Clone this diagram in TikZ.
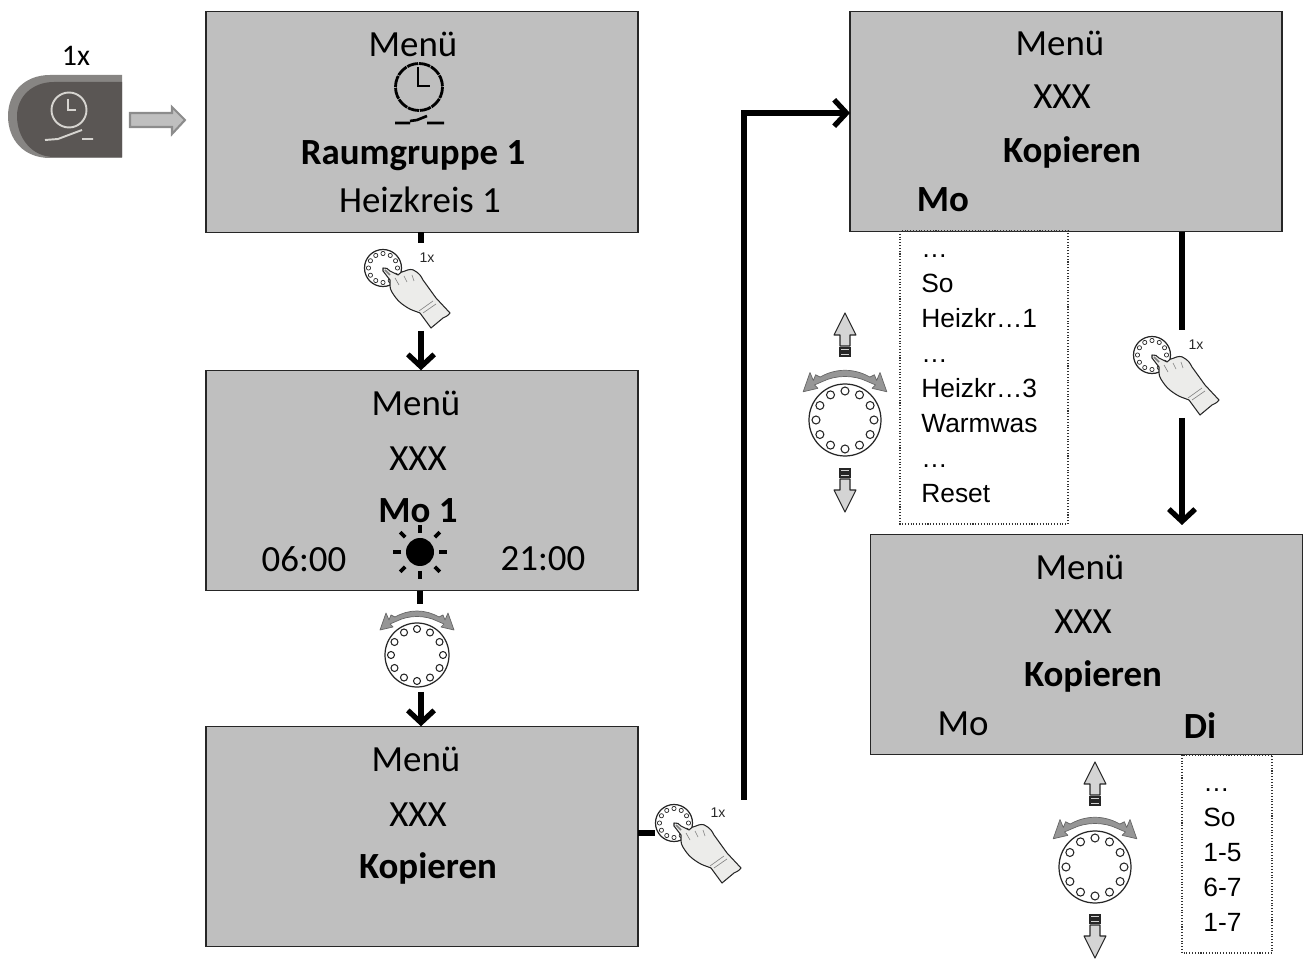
\documentclass[tikz,border=0pt]{standalone}
\usepackage{fontspec}
\setmainfont{Carlito}
\newfontfamily\arialfont{Liberation Sans}
\usetikzlibrary{arrows.meta,calc,positioning}
\definecolor{panelgray}{RGB}{191,191,191}
\definecolor{btndark}{RGB}{90,86,84}
\definecolor{btnrim}{RGB}{135,133,131}
\definecolor{btnline}{RGB}{214,212,208}
\definecolor{handfill}{RGB}{236,236,234}
\definecolor{turngray}{RGB}{150,150,150}
\definecolor{shaftgray}{RGB}{212,212,212}

\begin{document}
\begin{tikzpicture}[
    x=0.02cm, y=-0.02cm,
    panel/.style={draw=black!85, fill=panelgray, line width=0.7pt, inner sep=0pt, outer sep=0pt, minimum width=8.64cm, minimum height=4.41cm},
    paneltext/.style={font=\fontsize{21}{25}\selectfont, text=black, inner sep=0pt},
    boldtext/.style={paneltext, font=\fontsize{21}{25}\selectfont\bfseries},
    listbox/.style={draw=black!80, densely dotted, line width=0.6pt, inner sep=0pt},
    listtext/.style={font=\arialfont\fontsize{15}{19.95}\selectfont, align=left, anchor=north west, inner sep=0pt},
    flowline/.style={line width=3pt, black},
    flowarrow/.style={flowline, -{Straight Barb[length=7pt,width=15pt,line width=3pt]}},
    pics/knobdots/.style args={#1/#2/#3/#4/#5}{code={
      \draw[black!85, line width=0.7pt, fill=white] (0,0) circle (#1);
      \foreach \ang in {0,#4,...,359}
        \draw[black!85, line width=#5, fill=white] (\ang:#2) circle (#3);
    }},
    pics/handpress/.style={code={
      \pic {knobdots=18.5/14.5/2.1/30/0.4pt};
      \draw[black!85, line width=0.6pt, fill=handfill, line join=round] (0,0)
        .. controls (3,-1) and (5,1) .. (7,3)
        -- (15,7)
        .. controls (17,5) and (19,3) .. (22,3)
        .. controls (26,1) and (30,1) .. (32,3)
        .. controls (36,5) and (38,8) .. (40,12)
        -- (53,30) -- (67,45)
        .. controls (65,48) and (62,49) .. (60,50)
        -- (48,60) -- (37,45)
        .. controls (32,43) and (28,42) .. (25,40)
        .. controls (20,37) and (16,34) .. (13,30)
        .. controls (10,26) and (7,22) .. (7,18)
        -- (7,12) -- (0,3) -- cycle;
      \draw[black!50, line width=0.35pt] (36,43) -- (50,33) (40,45) -- (53,36)
        (12,10) -- (16,17) (21,8) -- (24,14) (29,7) -- (31,13);
      \draw[gray, line width=0.9pt] (2,2) -- (7,7);
      \node[font=\arialfont\fontsize{8}{8}\selectfont, text=black!85, inner sep=0pt] at (44,-10) {1x};
    }},
    pics/turnarrow/.style={code={
      \draw[black!60, line width=0.4pt, fill=turngray, line join=round]
        (-37,-25) -- (-31,-42) -- (-28,-35) -- (-26,-40) -- (-22,-38) 
        .. controls (-8,-46) and (8,-46) .. (22,-38)
        -- (26,-40) -- (28,-35) -- (31,-42) -- (37,-25) -- (24,-28) -- (27,-31) -- (20,-34)
        .. controls (8,-40) and (-8,-40) .. (-20,-34)
        -- (-27,-31) -- (-24,-28) -- cycle;
    }},
    pics/updownarrow/.style={code={
      \draw[black!85, line width=0.6pt, fill=shaftgray, line join=round]
        (0,0) -- (11,22) -- (5,22) -- (5,33) -- (-5,33) -- (-5,22) -- (-11,22) -- cycle;
      \draw[black!85, line width=0.6pt, fill=shaftgray] (-5,35) rectangle (5,38);
      \draw[black!85, line width=0.6pt, fill=black!55] (-5,38) rectangle (5,40);
      \draw[black!85, line width=0.6pt, fill=shaftgray] (-5,40) rectangle (5,43);
    }}
  ]
  \useasboundingbox (0,0) rectangle (1303,959);

  % Panels
  \node[panel] (raumpanel) at (422,122) {};
  \node[panel] (mopanel) at (422,480.5) {};
  \node[panel] (koppanel) at (422,836.5) {};
  \node[panel] (menupanel) at (1066,121.5) {};
  \node[panel] (dipanel) at (1086.5,644.5) {};
  \coordinate (raumhand) at (421,243);
  \coordinate (moarrow) at (421,331);
  \coordinate (moknob) at (420,604);
  \coordinate (kopknob) at (421,692);
  \coordinate (kophand) at (655,833);
  \coordinate (kopriser) at (744,800);
  \coordinate (cornerup) at (744,113);
  \coordinate (mohand) at (1182,330);
  \coordinate (diarrow) at (1182,418);
  \coordinate (ditop) at (1182,525);

  % Panel texts
  \node[paneltext] (menua) at (413,44) {Menü};
  \node[boldtext] (raum) at (413,156) {Raumgruppe 1};
  \node[paneltext] (heiz) at (420,200) {Heizkreis 1};
  \node[paneltext] (menub) at (416,403) {Menü};
  \node[paneltext] (xxxb) at (418,459) {XXX};
  \node[boldtext] (mob) at (418,511) {Mo 1};
  \node[paneltext] (timea) at (304,559) {06:00};
  \node[paneltext] (timeb) at (543,559) {21:00};
  \node[paneltext] (menuc) at (416,759) {Menü};
  \node[paneltext] (xxxc) at (418,815) {XXX};
  \node[boldtext] (kopc) at (428,868) {Kopieren};
  \node[paneltext] (menud) at (1060,43) {Menü};
  \node[paneltext] (xxxd) at (1062,97) {XXX};
  \node[boldtext] (kopd) at (1072,152) {Kopieren};
  \node[boldtext] (mod) at (943,200) {Mo};
  \node[paneltext] (menue) at (1080,567) {Menü};
  \node[paneltext] (xxxe) at (1083,622) {XXX};
  \node[boldtext] (kope) at (1093,676) {Kopieren};
  \node[paneltext] (moe) at (963,724) {Mo};
  \node[boldtext] (die) at (1200,726) {Di};

  % Lists
  \draw[listbox] (900,231) rectangle (1068,524);
  \draw[listbox] (1182,755) rectangle (1272,953);
  \node[listtext] (lista) at (921,254) {…\\So\\Heizkr…1\\…\\Heizkr…3\\Warmwas\\…\\Reset};
  \node[listtext] (listb) at (1203,788) {…\\So\\1-5\\6-7\\1-7};

  % Button
  \node[font=\fontsize{17}{20}\selectfont, inner sep=0pt] (press) at (76,56) {1x};
  \fill[btnrim] (122,75) -- (50,75) .. controls (24,75) and (8,93) .. (8,116)
    .. controls (8,140) and (24,158) .. (50,158) -- (122,158) -- cycle;
  \fill[btndark] (122,82) -- (54,82) .. controls (32,82) and (17,97) .. (17,116)
    .. controls (17,138) and (32,157) .. (54,157) -- (122,157) -- cycle;
  \draw[btnline, line width=1.1pt] (69,110) circle (17.5);
  \draw[btnline, line width=1.1pt] (68,99) -- (68,110) -- (76,110);
  \draw[btnline, line width=1.1pt] (45,140) -- (58,139) -- (82,130) (82,139) -- (93,139);
  \draw[black!45, line width=1.2pt, fill=panelgray] (130,113) -- (172,113) -- (172,107) -- (185,120)
    -- (172,134) -- (172,127) -- (130,127) -- cycle;

  % Clock icon
  \draw[black, line width=1.6pt, dash pattern=on 6.5pt off 0.5pt] (419,87) circle (23.5);
  \draw[black, line width=1.3pt] (418,67) -- (418,86) -- (430,86);
  \draw[black, line width=1.5pt] (395,123) -- (410,123) (410,121) -- (417,120) -- (427,116) (427,123) -- (444,123);

  % Sun icon
  \fill[black] (420,552) circle (14);
  \foreach \ang in {0,90,180,270}
    \draw[black, line width=2pt] ($(420,552)+(\ang:19)$) -- ($(420,552)+(\ang:27)$);
  \foreach \ang in {45,135,225,315}
    \draw[black, line width=2.2pt] ($(420,552)+(\ang:21)$) -- ($(420,552)+(\ang:28)$);

  % Hands and knobs
  \pic at (383,268) {handpress};
  \pic at (674,823) {handpress};
  \pic at (1152,355) {handpress};
  \pic at (417,655) {knobdots=32/26/3.5/30/0.6pt};
  \pic at (417,655) {turnarrow};
  \pic at (845,420) {knobdots=36/29/4/30/0.6pt};
  \pic[scale=1.13] at (845,420) {turnarrow};
  \pic at (845,313) {updownarrow};
  \pic[yscale=-1] at (845,512) {updownarrow};
  \pic at (1095,867) {knobdots=36/29/4/30/0.6pt};
  \pic[scale=1.13] at (1095,867) {turnarrow};
  \pic at (1095,762) {updownarrow};
  \pic[yscale=-1] at (1095,958) {updownarrow};

  % Connectors
  \draw[flowline] (raumhand |- raumpanel.south) -- (raumhand);
  \draw[flowarrow] (moarrow) -- (moarrow |- mopanel.north);
  \draw[flowline] (moknob |- mopanel.south) -- (moknob);
  \draw[flowarrow] (kopknob) -- (kopknob |- koppanel.north);
  \draw[flowline] (kophand -| koppanel.east) -- (kophand);
  \draw[flowarrow] (kopriser) -- (cornerup) -- (cornerup -| menupanel.west);
  \draw[flowline] (mohand |- menupanel.south) -- (mohand);
  \draw[flowarrow] (diarrow) -- (ditop);
\end{tikzpicture}
\end{document}
